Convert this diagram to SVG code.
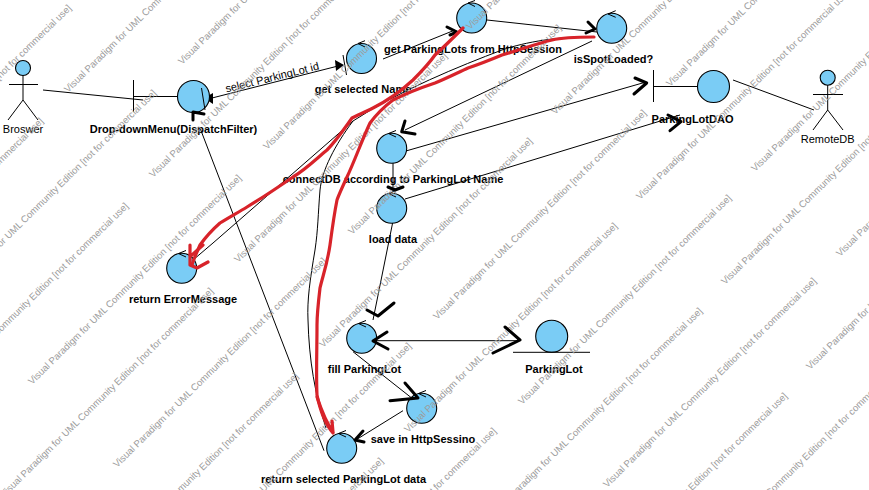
<svg xmlns="http://www.w3.org/2000/svg" width="869" height="490" viewBox="0 0 869 490">
<style>
text{font-family:"Liberation Sans",Arial,sans-serif;font-size:11px;fill:#000}
.b{font-weight:bold;text-anchor:middle}
.r{text-anchor:middle}
.w{font-size:9.6px;fill:#9c9c9c}
.c{fill:#7accf5;stroke:#000;stroke-width:1.1}
.l{fill:none;stroke:#000;stroke-width:1}
.h{fill:none;stroke:#000;stroke-width:3;stroke-linecap:round;stroke-linejoin:round}
.red{fill:none;stroke:#d8232a;stroke-width:3.2;stroke-linecap:round;stroke-linejoin:round}
</style>
<rect width="869" height="490" fill="#fff"/>
<g id="connectors">
<path class="l" d="M43 90L143 100"/>
<path class="l" d="M212 98L342 65"/>
<path d="M204 98L213 93L213 104Z"/>
<path d="M344 65L335 60L336 71Z"/>
<path class="l" d="M383 59L455 30"/>
<path class="l" d="M487 20L597 32"/>
<path class="l" d="M592 41L405 130"/>
<path class="l" d="M400 152.700L646 82"/>
<path class="l" d="M393 163V191"/>
<path class="l" d="M405 199L680 115"/>
<path class="l" d="M393 221L373 320"/>
<path class="l" d="M373 340.700H518"/>
<path class="l" d="M353 351.700L411.700 398"/>
<path class="l" d="M403 410.700L353 441.700"/>
<path class="l" d="M324 450.700L200 128"/>
<path class="l" d="M733 80L814 110"/>
<path class="l" d="M595 37C560 36 525 42 502 50C460 66 400 90 353 121L213 243L193 260"/>
<path class="l" d="M353 121C335 145 322 170 320 190C318 215 318 230 315 250C310 280 307 300 308 320C309 360 315 395 326 428"/>
<text class="r" transform="translate(273 81) rotate(-14)">select ParkingLot id</text>
</g>
<g id="node-broswer">
<circle class="c" cx="23" cy="68" r="7.500"/>
<path class="l" d="M23 75.500V100M9 84.500H38M23 100L8 120M23 100L38 120"/>
<text class="r" x="23" y="133">Broswer</text>
</g>
<g id="node-dropdown">
<path class="l" d="M133.500 80V112M133.500 96.500H178"/>
<circle class="c" cx="193.500" cy="96.500" r="16"/>
<path class="l" d="M201.500 88L205 110"/>
<text class="b" x="173.500" y="133">Drop-downMenu(DispatchFilter)</text>
</g>
<g id="node-get-selected-name">
<path class="l" d="M343 55L346.500 75"/>
<circle class="c" cx="361.500" cy="58.500" r="15"/>
<path class="l" d="M365 40.700L358 43.500L365 47"/>
<text class="b" x="363" y="93">get selected Name</text>
</g>
<g id="node-get-parkinglots">
<circle class="c" cx="471.700" cy="18" r="15"/>
<path class="l" d="M475 0.500L468 3L475 6.500"/>
<text class="b" x="473" y="53">get ParkingLots from HttpSession</text>
</g>
<g id="node-isspotloaded">
<circle class="c" cx="611.700" cy="28.300" r="15"/>
<path class="l" d="M615.700 10.700L608 14L615.700 17.300"/>
<text class="b" x="613.500" y="63">isSpotLoaded?</text>
</g>
<g id="node-parkinglotdao">
<path class="l" d="M653.500 70V102M653.500 86.500H698"/>
<circle class="c" cx="713.500" cy="86.500" r="16"/>
<text class="b" x="692.500" y="122.700">ParkingLotDAO</text>
</g>
<g id="node-remotedb">
<circle class="c" cx="827.700" cy="77.700" r="7.500"/>
<path class="l" d="M827.700 85.200V110M813 94.500H843M827.700 110L813 130M827.700 110L843 130"/>
<text class="r" x="827.700" y="142.700">RemoteDB</text>
</g>
<g id="node-connectdb">
<circle class="c" cx="391.700" cy="148.300" r="15"/>
<path class="l" d="M396 130.500L388.500 133.500L396 137"/>
<text class="b" x="393" y="183">connectDB according to ParkingLot Name</text>
</g>
<g id="node-load-data">
<circle class="c" cx="391.700" cy="208.300" r="15"/>
<path class="l" d="M396 190.500L388.500 193.500L396 197"/>
<text class="b" x="393" y="242.700">load data</text>
</g>
<g id="node-return-error">
<circle class="c" cx="181.700" cy="268.300" r="15"/>
<path class="l" d="M186 250.500L178.500 253.500L186 257"/>
<text class="b" x="183" y="302.700">return ErrorMessage</text>
</g>
<g id="node-fill-parkinglot">
<circle class="c" cx="361.700" cy="338.300" r="15"/>
<path class="l" d="M366 320.500L358.500 323.500L366 327"/>
<text class="b" x="364.500" y="372.700">fill ParkingLot</text>
</g>
<g id="node-parkinglot">
<circle class="c" cx="551.700" cy="336.300" r="16"/>
<path class="l" d="M513 352.300H590"/>
<text class="b" x="554" y="372.700">ParkingLot</text>
</g>
<g id="node-save">
<circle class="c" cx="421.700" cy="408.300" r="15"/>
<path class="l" d="M426 390.500L418.500 393.500L426 397"/>
<text class="b" x="423" y="442.700">save in HttpSessino</text>
</g>
<g id="node-return-data">
<circle class="c" cx="341.700" cy="448.300" r="15"/>
<path class="l" d="M346 430.500L338.500 433.500L346 437"/>
<text class="b" x="343.500" y="482.700">return selected ParkingLot data</text>
</g>
<g id="watermarks">
<text class="w" transform="translate(-166 328) rotate(-44.500)">Visual Paradigm for UML Community Edition [not for commercial use]</text>
<text class="w" transform="translate(-81 413) rotate(-44.500)">Visual Paradigm for UML Community Edition [not for commercial use]</text>
<text class="w" transform="translate(4 498) rotate(-44.500)">Visual Paradigm for UML Community Edition [not for commercial use]</text>
<text class="w" transform="translate(89 583) rotate(-44.500)">Visual Paradigm for UML Community Edition [not for commercial use]</text>
<text class="w" transform="translate(174 668) rotate(-44.500)">Visual Paradigm for UML Community Edition [not for commercial use]</text>
<text class="w" transform="translate(-138 215) rotate(-44.500)">Visual Paradigm for UML Community Edition [not for commercial use]</text>
<text class="w" transform="translate(-53 300) rotate(-44.500)">Visual Paradigm for UML Community Edition [not for commercial use]</text>
<text class="w" transform="translate(32 385) rotate(-44.500)">Visual Paradigm for UML Community Edition [not for commercial use]</text>
<text class="w" transform="translate(117 468) rotate(-44.500)">Visual Paradigm for UML Community Edition [not for commercial use]</text>
<text class="w" transform="translate(202 553) rotate(-44.500)">Visual Paradigm for UML Community Edition [not for commercial use]</text>
<text class="w" transform="translate(287 638) rotate(-44.500)">Visual Paradigm for UML Community Edition [not for commercial use]</text>
<text class="w" transform="translate(-17 8) rotate(-44.500)">Visual Paradigm for UML Community Edition [not for commercial use]</text>
<text class="w" transform="translate(68 93) rotate(-44.500)">Visual Paradigm for UML Community Edition [not for commercial use]</text>
<text class="w" transform="translate(153 178) rotate(-44.500)">Visual Paradigm for UML Community Edition [not for commercial use]</text>
<text class="w" transform="translate(238 263) rotate(-44.500)">Visual Paradigm for UML Community Edition [not for commercial use]</text>
<text class="w" transform="translate(323 348) rotate(-44.500)">Visual Paradigm for UML Community Edition [not for commercial use]</text>
<text class="w" transform="translate(408 433) rotate(-44.500)">Visual Paradigm for UML Community Edition [not for commercial use]</text>
<text class="w" transform="translate(493 518) rotate(-44.500)">Visual Paradigm for UML Community Edition [not for commercial use]</text>
<text class="w" transform="translate(578 603) rotate(-44.500)">Visual Paradigm for UML Community Edition [not for commercial use]</text>
<text class="w" transform="translate(182 65) rotate(-44.500)">Visual Paradigm for UML Community Edition [not for commercial use]</text>
<text class="w" transform="translate(267 150) rotate(-44.500)">Visual Paradigm for UML Community Edition [not for commercial use]</text>
<text class="w" transform="translate(352 235) rotate(-44.500)">Visual Paradigm for UML Community Edition [not for commercial use]</text>
<text class="w" transform="translate(437 320) rotate(-44.500)">Visual Paradigm for UML Community Edition [not for commercial use]</text>
<text class="w" transform="translate(522 405) rotate(-44.500)">Visual Paradigm for UML Community Edition [not for commercial use]</text>
<text class="w" transform="translate(607 488) rotate(-44.500)">Visual Paradigm for UML Community Edition [not for commercial use]</text>
<text class="w" transform="translate(692 573) rotate(-44.500)">Visual Paradigm for UML Community Edition [not for commercial use]</text>
<text class="w" transform="translate(470 30) rotate(-44.500)">Visual Paradigm for UML Community Edition [not for commercial use]</text>
<text class="w" transform="translate(555 115) rotate(-44.500)">Visual Paradigm for UML Community Edition [not for commercial use]</text>
<text class="w" transform="translate(640 200) rotate(-44.500)">Visual Paradigm for UML Community Edition [not for commercial use]</text>
<text class="w" transform="translate(725 285) rotate(-44.500)">Visual Paradigm for UML Community Edition [not for commercial use]</text>
<text class="w" transform="translate(810 370) rotate(-44.500)">Visual Paradigm for UML Community Edition [not for commercial use]</text>
<text class="w" transform="translate(585 2) rotate(-44.500)">Visual Paradigm for UML Community Edition [not for commercial use]</text>
<text class="w" transform="translate(670 87) rotate(-44.500)">Visual Paradigm for UML Community Edition [not for commercial use]</text>
<text class="w" transform="translate(755 172) rotate(-44.500)">Visual Paradigm for UML Community Edition [not for commercial use]</text>
<text class="w" transform="translate(840 257) rotate(-44.500)">Visual Paradigm for UML Community Edition [not for commercial use]</text>
</g>
<g id="annotations">
<path class="h" d="M193 120L193 112L204 114"/>
<path class="h" d="M447 27L457 32L450 35"/>
<path class="h" d="M588 22L595 29L586 33"/>
<path class="h" d="M635 78L646.700 83L634 94"/>
<path class="h" d="M405 121L401.700 131.700L415 134"/>
<path class="h" d="M388 187L395 190L403 187"/>
<path class="h" d="M668 115L681 121.700L670 130.700"/>
<path class="h" d="M367 310L378 316L394 303"/>
<path class="h" d="M387 332L373 341L388 349"/>
<path class="h" d="M505 327L520 340L493 353"/>
<path class="h" d="M390 400.700L418 398L405 383"/>
<path class="h" d="M363 431L355 440L364 442"/>
<path class="red" d="M594 37C575 37 560 38 552 40C535 44 520 50 502 55C490 60 480 64 468 68C455 74 445 79 435 83C420 88 405 94 393 100C385 106 376 115 370 123C362 140 355 160 347 177C341 190 338 197 337 200C334 215 332 230 330 245C327 265 323 275 320 288C318 305 317 315 317 325C317 350 316 375 317 395C320 410 326 425 333 433"/>
<path class="red" d="M317 397C322 412 328 425 333 432L332 421"/>
<path class="red" d="M463 28C455 36 445 46 435 55C428 65 420 73 413 80C400 92 385 102 373 108C365 112 358 115 352 118C345 128 335 142 327 150C315 160 305 170 293 177C277 188 262 198 247 207C237 213 228 218 220 223C212 230 205 238 200 245C197 252 194 258 192 265"/>
<path class="red" d="M190 245L190 265L197 268L208 262M203 245L192 255"/>
</g>
</svg>
